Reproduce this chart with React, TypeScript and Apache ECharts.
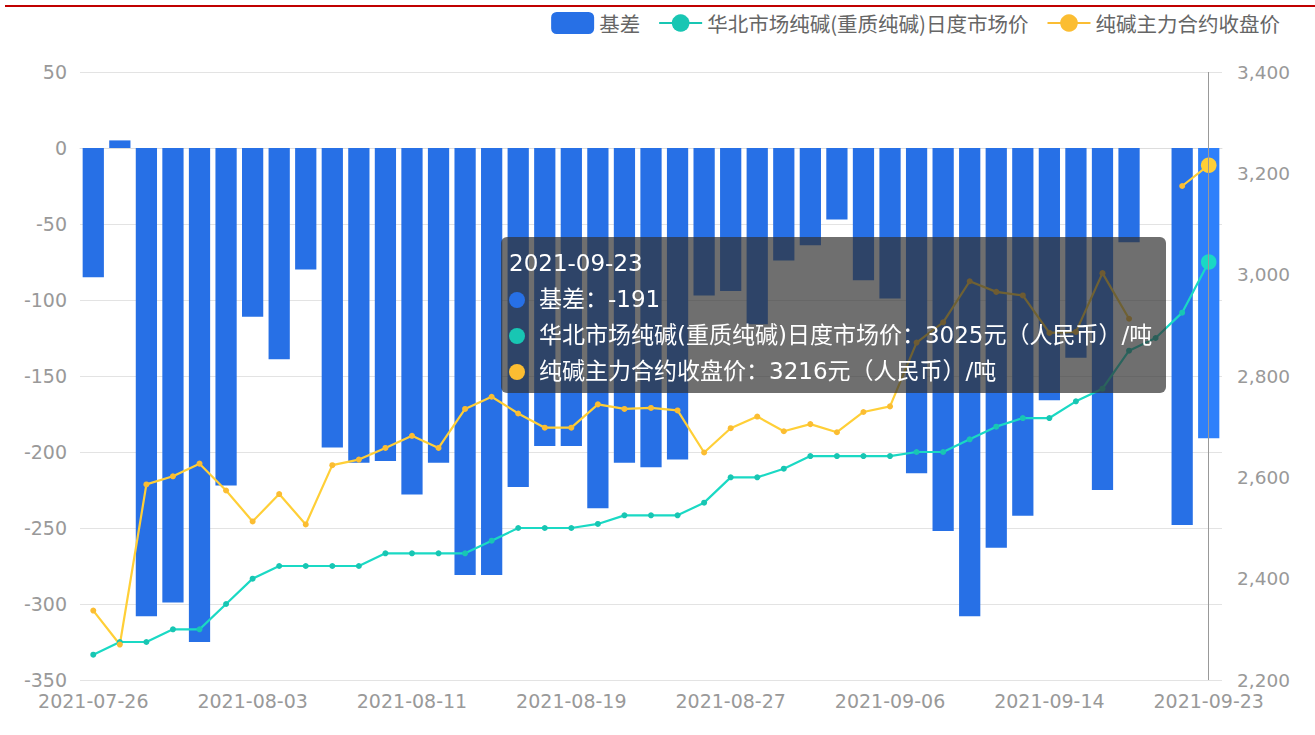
import React, { useEffect, useRef } from "react";
import * as echarts from "echarts";

const dates = [
  "2021-07-26", "2021-07-27", "2021-07-28", "2021-07-29", "2021-07-30",
  "2021-08-02", "2021-08-03", "2021-08-04", "2021-08-05", "2021-08-06",
  "2021-08-09", "2021-08-10", "2021-08-11", "2021-08-12", "2021-08-13",
  "2021-08-16", "2021-08-17", "2021-08-18", "2021-08-19", "2021-08-20",
  "2021-08-23", "2021-08-24", "2021-08-25", "2021-08-26", "2021-08-27",
  "2021-08-30", "2021-08-31", "2021-09-01", "2021-09-02", "2021-09-03",
  "2021-09-06", "2021-09-07", "2021-09-08", "2021-09-09", "2021-09-10",
  "2021-09-13", "2021-09-14", "2021-09-15", "2021-09-16", "2021-09-17",
  "2021-09-18", "2021-09-22", "2021-09-23",
];

const basis = [
  -85, 5, -308, -299, -325, -222, -111, -139, -80, -197,
  -207, -206, -228, -207, -281, -281, -223, -196, -196, -237,
  -207, -210, -205, -97, -94, -116, -74, -64, -47, -87,
  -99, -214, -252, -308, -263, -242, -166, -138, -225, -62,
  null, -248, -191,
];

const spotPrice = [
  2250, 2275, 2275, 2300, 2300, 2350, 2400, 2425, 2425, 2425,
  2425, 2450, 2450, 2450, 2450, 2475, 2500, 2500, 2500, 2508,
  2525, 2525, 2525, 2550, 2600, 2600, 2617, 2642, 2642, 2642,
  2642, 2650, 2650, 2675, 2700, 2717, 2717, 2750, 2775, 2850,
  2875, 2925, 3025,
];

const futuresPrice = [
  2337, 2270, 2586, 2602, 2627, 2574, 2513, 2567, 2507, 2624,
  2635, 2658, 2682, 2658, 2735, 2759, 2726, 2698, 2698, 2744,
  2735, 2737, 2732, 2649, 2697, 2720, 2691, 2705, 2689, 2729,
  2740, 2866, 2906, 2987, 2966, 2959, 2885, 2887, 3003, 2913,
  null, 3175, 3216,
];

const seriesNames = ["基差", "华北市场纯碱(重质纯碱)日度市场价", "纯碱主力合约收盘价"];
const colors = ["#2770e6", "#18c6b3", "#fbbd32"];
const units = ["", "元（人民币）/吨", "元（人民币）/吨"];

const CJK_FONT = "'Noto Sans CJK SC', 'Noto Sans', sans-serif";
const NUM_FONT = "'DejaVu Sans', 'Noto Sans CJK SC', sans-serif";
const TIP_FONT = `"DejaVu Sans", "Noto Sans CJK SC", sans-serif`;

export default function App() {
  const ref = useRef<HTMLDivElement>(null);

  useEffect(() => {
    if (!ref.current) return;
    const chart = echarts.init(ref.current, null, { renderer: "svg" });
    const option: any = {
      animation: false,
      textStyle: { fontFamily: CJK_FONT },
      color: colors,
      legend: {
        top: 7,
        right: 30,
        itemWidth: 43,
        itemHeight: 22,
        itemGap: 18,
        textStyle: { fontSize: 20.5, color: "#666", fontFamily: CJK_FONT },
        data: [
          { name: seriesNames[0], icon: "roundRect" },
          { name: seriesNames[1] },
          { name: seriesNames[2] },
        ],
      },
      grid: { left: 80, right: 93, top: 72, bottom: 55, containLabel: false },
      tooltip: {
        trigger: "axis",
        alwaysShowContent: true,
        transitionDuration: 0,
        position: [501, 237],
        backgroundColor: "rgba(50,50,50,0.7)",
        borderWidth: 0,
        padding: [8, 14, 4, 8],
        extraCssText: "box-shadow:none;border-radius:6px;",
        axisPointer: { type: "line", lineStyle: { color: "#999", width: 1, type: "solid" } },
        textStyle: { color: "#fff", fontSize: 23, fontFamily: TIP_FONT },
        formatter: (params: any[]) => {
          const idx = params[0].dataIndex;
          let html = `<div style="line-height:36px;white-space:nowrap;">${dates[idx]}</div>`;
          params.forEach((p: any) => {
            const si = p.seriesIndex;
            const v = p.value;
            html +=
              `<div style="line-height:36px;white-space:nowrap;">` +
              `<span style="display:inline-block;width:16px;height:16px;border-radius:8px;background:${colors[si]};margin-right:14px;vertical-align:-1px;"></span>` +
              `${seriesNames[si]}：${v}${units[si]}</div>`;
          });
          return html;
        },
      },
      xAxis: {
        type: "category",
        data: dates,
        boundaryGap: true,
        axisTick: { show: false },
        axisLine: { lineStyle: { color: "#ddd" } },
        axisLabel: {
          interval: 5,
          color: "#999",
          fontSize: 19,
          lineHeight: 19,
          margin: 11,
          fontFamily: NUM_FONT,
        },
      },
      yAxis: [
        {
          type: "value",
          min: -350,
          max: 50,
          interval: 50,
          axisLine: { show: false },
          axisTick: { show: false },
          splitLine: { lineStyle: { color: "#e3e3e3" } },
          axisLabel: { color: "#999", fontSize: 19, lineHeight: 19, margin: 13, fontFamily: NUM_FONT },
        },
        {
          type: "value",
          position: "right",
          min: 2200,
          max: 3400,
          interval: 200,
          axisLine: { show: false },
          axisTick: { show: false },
          splitLine: { show: false },
          axisLabel: {
            color: "#999",
            fontSize: 18.5,
            lineHeight: 19,
            margin: 15,
            fontFamily: NUM_FONT,
            formatter: (v: number) => v.toLocaleString("en-US"),
          },
        },
      ],
      series: [
        {
          name: seriesNames[0],
          type: "bar",
          yAxisIndex: 0,
          barWidth: "80%",
          data: basis,
          itemStyle: { color: colors[0] },
          emphasis: { itemStyle: { color: "#2e80fb" } },
        },
        {
          name: seriesNames[1],
          type: "line",
          yAxisIndex: 1,
          data: spotPrice,
          symbol: "circle",
          symbolSize: 6,
          lineStyle: { width: 2.2, color: colors[1] },
          itemStyle: { color: colors[1] },
          emphasis: { scale: 2.6 },
        },
        {
          name: seriesNames[2],
          type: "line",
          yAxisIndex: 1,
          data: futuresPrice,
          symbol: "circle",
          symbolSize: 6,
          connectNulls: false,
          lineStyle: { width: 2.2, color: colors[2] },
          itemStyle: { color: colors[2] },
          emphasis: { scale: 2.6 },
        },
      ],
    };
    chart.setOption(option);
    chart.dispatchAction({ type: "showTip", seriesIndex: 0, dataIndex: dates.length - 1 });
    return () => chart.dispose();
  }, []);

  return (
    <div style={{ position: "fixed", left: 0, top: 0, width: 1315, height: 735, background: "#fff" }}>
      <div style={{ position: "absolute", left: 5, top: 5, right: 0, height: 2, background: "#c00000" }} />
      <div ref={ref} style={{ position: "absolute", left: 0, top: 0, width: 1315, height: 735 }} />
    </div>
  );
}
